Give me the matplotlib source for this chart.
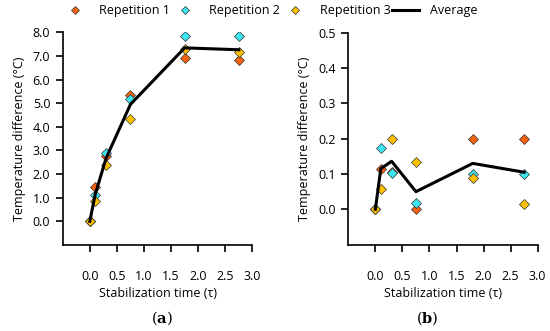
import matplotlib
matplotlib.use("Agg")
import matplotlib.pyplot as plt
from matplotlib.lines import Line2D

plt.rcParams['font.family'] = ['Open Sans', 'DejaVu Sans']
plt.rcParams['mathtext.fontset'] = 'dejavuserif'

# panel (a)
x_a = [0.0, 0.1, 0.3, 0.75, 1.75, 2.75]
rep1_a = [0.0, 1.44, 2.75, 5.36, 6.90, 6.81]
rep2_a = [0.0, 1.13, 2.87, 5.17, 7.83, 7.83]
rep3_a = [0.0, 0.86, 2.39, 4.31, 7.29, 7.15]
avg_a = [0.0, 1.14, 2.67, 4.95, 7.34, 7.26]

# panel (b)
x_b = [0.0, 0.1, 0.3, 0.75, 1.8, 2.75]
rep1_b = [0.0, 0.115, 0.105, 0.0, 0.200, 0.200]
rep2_b = [0.0, 0.173, 0.103, 0.018, 0.101, 0.101]
rep3_b = [0.0, 0.058, 0.200, 0.133, 0.089, 0.014]
avg_b = [0.0, 0.115, 0.136, 0.050, 0.130, 0.105]

x_ticks = [0.0, 0.5, 1.0, 1.5, 2.0, 2.5, 3.0]
yticks_a = [0, 1, 2, 3, 4, 5, 6, 7, 8]
yticks_b = [0.0, 0.1, 0.2, 0.3, 0.4, 0.5]

c1, c2, c3 = '#F7620F', '#3EE6F2', '#FFC000'

fig = plt.figure(figsize=(5.5, 3.31), dpi=100)
ax1 = fig.add_axes([0.114, 0.26, 0.345, 0.6425])
ax2 = fig.add_axes([0.6333, 0.261, 0.3443, 0.640])


def style(ax, x, r1, r2, r3, avg, yticks, ylim):
    for r, c in ((r1, c1), (r2, c2), (r3, c3)):
        ax.plot(x, r, linestyle='none', marker='D', markersize=5.5,
                markerfacecolor=c, markeredgecolor='#333333',
                markeredgewidth=0.5, zorder=3)
    ax.plot(x, avg, color='black', linewidth=2.2, zorder=4)
    ax.set_xlim(-0.5, 3.0)
    ax.set_ylim(*ylim)
    ax.set_xticks(x_ticks)
    ax.set_xticklabels(['%.1f' % v for v in x_ticks])
    ax.set_yticks(yticks)
    ax.set_yticklabels(['%.1f' % v for v in yticks])
    ax.spines['top'].set_visible(False)
    ax.spines['right'].set_visible(False)
    ax.spines['left'].set_bounds(ylim[0], yticks[-1])
    ax.spines['bottom'].set_bounds(-0.5, 3.0)
    for s in ('left', 'bottom'):
        ax.spines[s].set_linewidth(1.2)
    ax.tick_params(axis='x', direction='out', length=5, width=1.2,
                   pad=13, labelsize=9)
    ax.tick_params(axis='y', direction='out', length=5, width=1.2,
                   pad=4, labelsize=9)
    ax.set_xlabel('Stabilization time (τ)', fontsize=9, labelpad=3)
    ax.set_ylabel('Temperature difference (°C)', fontsize=9, labelpad=5)


style(ax1, x_a, rep1_a, rep2_a, rep3_a, avg_a, yticks_a, (-1.0, 8.0))
style(ax2, x_b, rep1_b, rep2_b, rep3_b, avg_b, yticks_b, (-0.1, 0.5))

fig.text(0.294, 0.04, r'($\mathbf{a}$)', fontsize=10.5, ha='center', va='center',
         family='DejaVu Serif')
fig.text(0.776, 0.04, r'($\mathbf{b}$)', fontsize=10.5, ha='center', va='center',
         family='DejaVu Serif')

handles = [
    Line2D([], [], linestyle='none', marker='D', markersize=4.5, markerfacecolor=c1,
           markeredgecolor='#333333', markeredgewidth=0.5),
    Line2D([], [], linestyle='none', marker='D', markersize=4.5, markerfacecolor=c2,
           markeredgecolor='#333333', markeredgewidth=0.5),
    Line2D([], [], linestyle='none', marker='D', markersize=4.5, markerfacecolor=c3,
           markeredgecolor='#333333', markeredgewidth=0.5),
    Line2D([], [], color='black', linewidth=2.2),
]
fig.legend(handles, ['Repetition 1', 'Repetition 2', 'Repetition 3', 'Average'],
           loc='center', bbox_to_anchor=(0.49, 0.968), ncol=4, frameon=False,
           fontsize=9, handlelength=2.1, columnspacing=0.15, handletextpad=0.9)

fig.savefig('out.png', dpi=100)
